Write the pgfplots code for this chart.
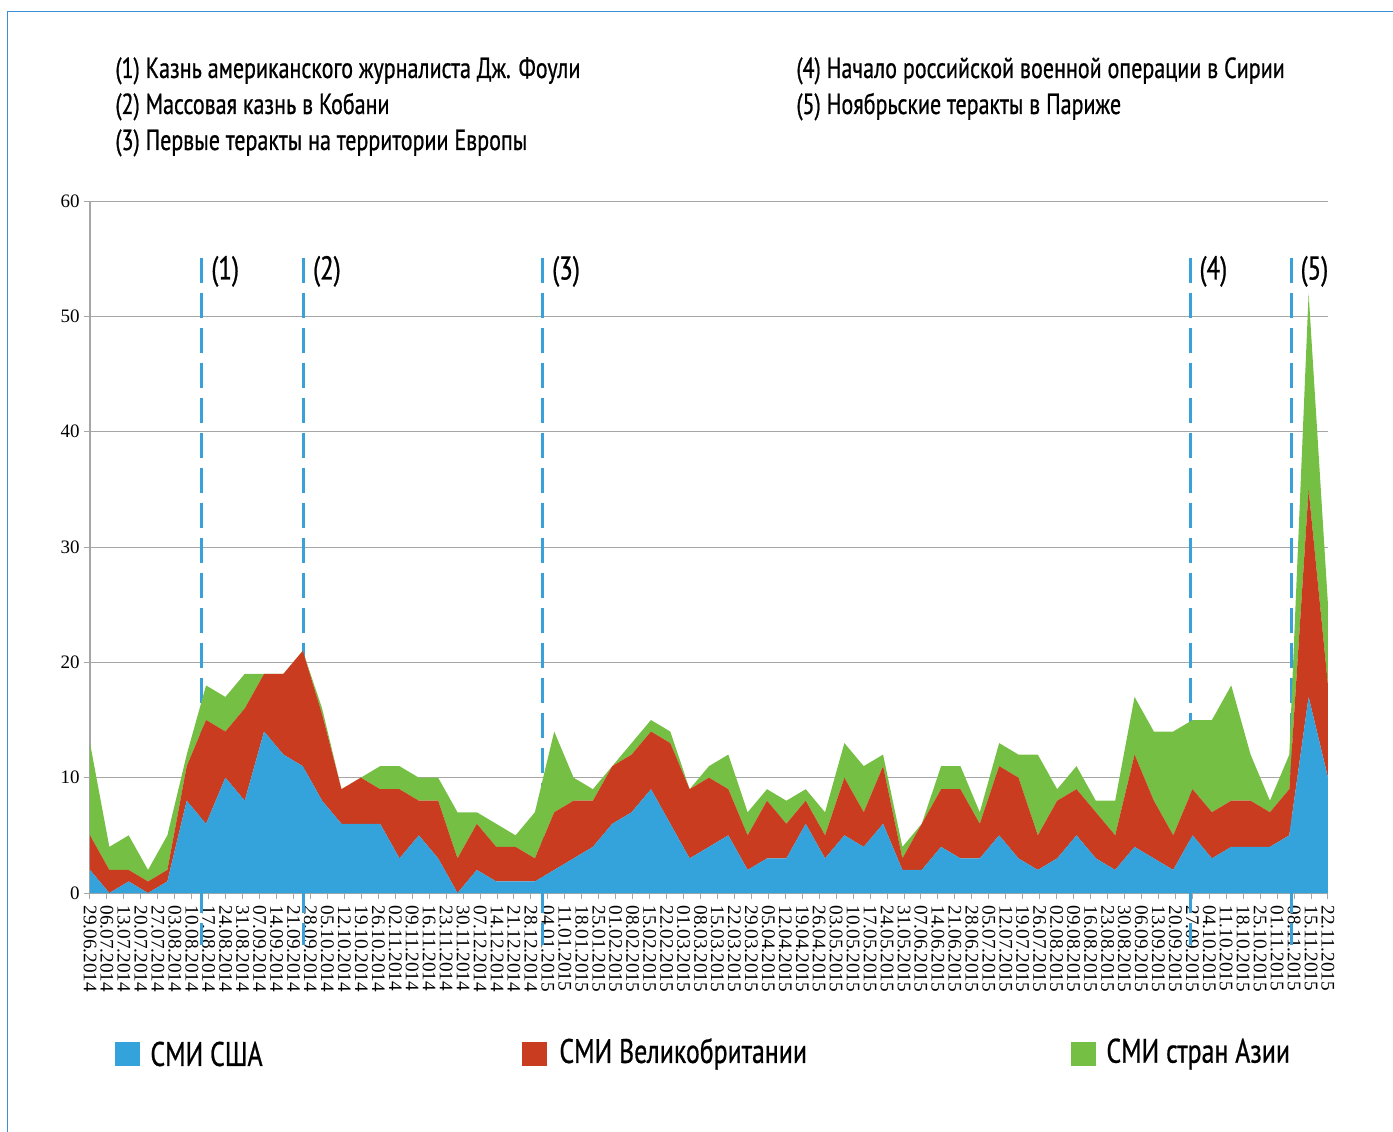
\documentclass[border=0pt]{standalone}
\usepackage{fontspec}
\setmainfont{Liberation Serif}
\newfontfamily\cond[FakeStretch=0.76, FakeBold=0.7]{PT Sans}
\usepackage{pgfplots}
\pgfplotsset{compat=1.18}
\usepackage{pgfplotstable}

\definecolor{usblue}{HTML}{34A3DB}
\definecolor{ukred}{HTML}{C93C20}
\definecolor{asgreen}{HTML}{76BF45}
\definecolor{dashc}{HTML}{3AA0DA}
\definecolor{framec}{HTML}{3A8FD8}
\definecolor{gridc}{HTML}{A6A6A6}

% weekly counts: US media, UK media, Asian media (stacked)
\pgfplotstableread{
i us uk asia
0 2 3 8
1 0 2 2
2 1 1 3
3 0 1 1
4 1 1 3
5 8 3 1
6 6 9 3
7 10 4 3
8 8 8 3
9 14 5 0
10 12 7 0
11 11 10 0
12 8 7.5 0.5
13 6 3 0
14 6 4 0
15 6 3 2
16 3 6 2
17 5 3 2
18 3 5 2
19 0 3 4
20 2 4 1
21 1 3 2
22 1 3 1
23 1 2 4
24 2 5 7
25 3 5 2
26 4 4 1
27 6 5 0
28 7 5 1
29 9 5 1
30 6 7 1
31 3 6 0
32 4 6 1
33 5 4 3
34 2 3 2
35 3 5 1
36 3 3 2
37 6 2 1
38 3 2 2
39 5 5 3
40 4 3 4
41 6 5 1
42 2 1 1
43 2 4 0
44 4 5 2
45 3 6 2
46 3 3 1
47 5 6 2
48 3 7 2
49 2 3 7
50 3 5 1
51 5 4 2
52 3 4 1
53 2 3 3
54 4 8 5
55 3 5 6
56 2 3 9
57 5 4 6
58 3 4 8
59 4 4 10
60 4 4 4
61 4 3 1
62 5 4 3
63 17 18 17
64 10 8 7
}\media

\tikzset{
  evt/.style={dashc, line width=1.5pt, dash pattern=on 12.5pt off 5pt},
  evtlab/.style={anchor=west, inner sep=0pt, xshift=4.5pt, font=\cond\fontsize{16.5}{16}\selectfont},
}

\begin{document}
\begin{tikzpicture}[x=1pt,y=1pt]
\path[use as bounding box] (-45,-119) rectangle (651.5,446.5);
\draw[framec, line width=0.8pt] (-41.2,-130) -- (-41.2,440.7) -- (660,440.7);

% notes on top
\begin{scope}[every node/.style={anchor=base west, inner sep=0pt, font=\cond\fontsize{14.5}{16}\selectfont}]
\node at (12.5,407.5) {(1) Казнь американского журналиста Дж. Фоули};
\node at (12.5,389.5) {(2) Массовая казнь в Кобани};
\node at (12.5,371.5) {(3) Первые теракты на территории Европы};
\node at (353,407.5) {(4) Начало российской военной операции в Сирии};
\node at (353,389.5) {(5) Ноябрьские теракты в Париже};
\end{scope}

\begin{axis}[
  at={(0,0)}, anchor=south west, scale only axis,
  width=619pt, height=346pt,
  xmin=0, xmax=73, ymin=0, ymax=60,
  axis x line*=bottom, axis y line*=left,
  axis line style={draw=gridc, line width=0.6pt},
  tick align=outside, major tick length=3pt,
  tick style={draw=gridc, line width=0.5pt},
  xtick={0,...,73},
  xticklabels={29.06.2014,06.07.2014,13.07.2014,20.07.2014,27.07.2014,03.08.2014,10.08.2014,17.08.2014,24.08.2014,31.08.2014,07.09.2014,14.09.2014,21.09.2014,28.09.2014,05.10.2014,12.10.2014,19.10.2014,26.10.2014,02.11.2014,09.11.2014,16.11.2014,23.11.2014,30.11.2014,07.12.2014,14.12.2014,21.12.2014,28.12.2014,04.01.2015,11.01.2015,18.01.2015,25.01.2015,01.02.2015,08.02.2015,15.02.2015,22.02.2015,01.03.2015,08.03.2015,15.03.2015,22.03.2015,29.03.2015,05.04.2015,12.04.2015,19.04.2015,26.04.2015,03.05.2015,10.05.2015,17.05.2015,24.05.2015,31.05.2015,07.06.2015,14.06.2015,21.06.2015,28.06.2015,05.07.2015,12.07.2015,19.07.2015,26.07.2015,02.08.2015,09.08.2015,16.08.2015,23.08.2015,30.08.2015,06.09.2015,13.09.2015,20.09.2015,27.09.2015,04.10.2015,11.10.2015,18.10.2015,25.10.2015,01.11.2015,08.11.2015,15.11.2015,22.11.2015},
  x tick label style={rotate=-90, anchor=west, inner sep=3pt, font=\fontsize{9.6}{9.6}\selectfont},
  ytick={0,10,...,60},
  y tick label style={font=\fontsize{9.5}{10}\selectfont, inner sep=2pt},
  /pgf/number format/assume math mode=true,
  ymajorgrids, grid style={draw=gridc, line width=0.5pt},
  stack plots=y, clip=false,
  every axis plot/.append style={draw=none},
]
\addplot[fill=usblue] table[x expr=\thisrow{i}*73/64, y=us] {\media} \closedcycle;
\addplot[fill=ukred] table[x expr=\thisrow{i}*73/64, y=uk] {\media} \closedcycle;
\addplot[fill=asgreen] table[x expr=\thisrow{i}*73/64, y=asia] {\media} \closedcycle;

% event markers
\draw[evt] (axis cs:6.6,55.1) -- (axis cs:6.6,-4.5);
\draw[evt] (axis cs:12.6,55.1) -- (axis cs:12.6,-4.5);
\draw[evt] (axis cs:26.7,55.1) -- (axis cs:26.7,-4.5);
\draw[evt] (axis cs:64.87,55.1) -- (axis cs:64.87,-4.5);
\draw[evt] (axis cs:70.83,55.1) -- (axis cs:70.83,-4.5);
\node[evtlab] at (axis cs:6.6,53.9) {(1)};
\node[evtlab] at (axis cs:12.6,53.9) {(2)};
\node[evtlab] at (axis cs:26.7,53.9) {(3)};
\node[evtlab] at (axis cs:64.87,53.9) {(4)};
\node[evtlab] at (axis cs:70.83,53.9) {(5)};
\end{axis}

% legend
\begin{scope}[every node/.style={anchor=west, inner sep=0pt, font=\cond\fontsize{17}{18}\selectfont}]
\fill[usblue] (12.5,-86.5) rectangle (25,-74.5);
\node at (30,-80.5) {СМИ США};
\fill[ukred] (216,-86.5) rectangle (228.5,-74.5);
\node at (234.5,-80.5) {СМИ Великобритании};
\fill[asgreen] (490.5,-86.5) rectangle (503,-74.5);
\node at (508,-80.5) {СМИ стран Азии};
\end{scope}
\end{tikzpicture}
\end{document}
